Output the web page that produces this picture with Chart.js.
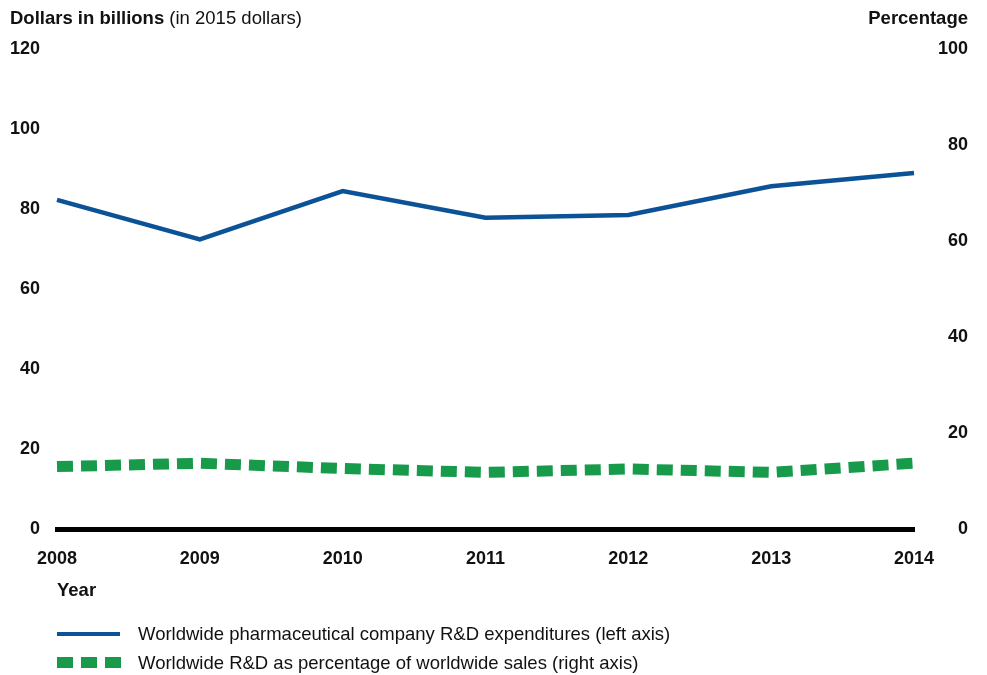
<!DOCTYPE html>
<html>
<head>
<meta charset="utf-8">
<script src="https://cdn.jsdelivr.net/npm/chart.js@4.4.1/dist/chart.umd.min.js"></script>
<style>
  html, body { margin: 0; padding: 0; background: #fff; }
  body { width: 987px; height: 675px; position: relative; overflow: hidden;
         font-family: "Liberation Sans", Arial, sans-serif; color: #111; }
  #wrap { position: absolute; left: 0; top: 0; width: 987px; height: 675px; }
  .txt { position: absolute; font-size: 18.5px; white-space: nowrap; line-height: 1; }
  .b { font-weight: bold; }
  .swatch { position: absolute; }
</style>
</head>
<body>
<div id="wrap"><canvas id="rdChart"></canvas></div>

<div class="txt" style="left:10px; top:9px;"><span class="b">Dollars in billions</span> (in 2015 dollars)</div>
<div class="txt b" style="right:19px; top:9px;">Percentage</div>
<div class="txt b" style="left:57px; top:581px;">Year</div>

<div class="swatch" style="left:57px; top:632px; width:63px; height:4px; background:#0c5296;"></div>
<div class="txt" style="left:138px; top:625px;">Worldwide pharmaceutical company R&amp;D expenditures (left axis)</div>
<div class="swatch" style="left:57px; top:657px; width:16px; height:11px; background:#179b4b;"></div>
<div class="swatch" style="left:81px; top:657px; width:16px; height:11px; background:#179b4b;"></div>
<div class="swatch" style="left:105px; top:657px; width:16px; height:11px; background:#179b4b;"></div>
<div class="txt" style="left:138px; top:654px;">Worldwide R&amp;D as percentage of worldwide sales (right axis)</div>

<script>
'use strict'

// ---------------- data ----------------
const years = ['2008', '2009', '2010', '2011', '2012', '2013', '2014'];
// R&D spending, billions of 2015 dollars (left axis)
const rdSpending = [82.3, 72.4, 84.5, 77.8, 78.5, 85.7, 89.0];
// R&D as share of sales, percent (right axis)
const rdShare = [13.0, 13.7, 12.6, 11.8, 12.5, 11.8, 13.7];
const leftTicks = [0, 20, 40, 60, 80, 100, 120];
const rightTicks = [0, 20, 40, 60, 80, 100];

const blue = '#0c5296';
const green = '#179b4b';
const tickFont = { family: '"Liberation Sans", Arial, sans-serif', size: 18, weight: 'bold' };

function fixedTicks(values) {
    return function (scale) {
        scale.ticks = values.map(v => ({ value: v }));
    };
}

const ctx = document.getElementById('rdChart').getContext('2d');
const rdChart = new Chart(ctx, {
    type: 'line',
    data: {
        labels: years,
        datasets: [
            {
                label: 'Worldwide pharmaceutical company R&D expenditures (left axis)',
                data: rdSpending,
                yAxisID: 'yLeft',
                borderColor: blue,
                borderWidth: 4.5,
                pointRadius: 0,
                tension: 0,
                borderJoinStyle: 'miter'
            },
            {
                label: 'Worldwide R&D as percentage of worldwide sales (right axis)',
                data: rdShare,
                yAxisID: 'yRight',
                borderColor: green,
                borderWidth: 11,
                borderDash: [16, 8],
                pointRadius: 0,
                tension: 0
            }
        ]
    },
    options: {
        responsive: true,
        maintainAspectRatio: false,
        animation: false,
        events: [],
        layout: { padding: { top: 49, bottom: 105, left: 0, right: 19 } },
        plugins: {
            legend: { display: false },
            tooltip: { enabled: false }
        },
        scales: {
            x: {
                offset: false,
                grid: { display: false, drawTicks: false },
                border: { display: true, color: '#000', width: 5 },
                ticks: { color: '#111', font: tickFont, padding: 19, maxRotation: 0 },
                afterFit: function (scale) { scale.height = 41; }
            },
            yLeft: {
                position: 'left',
                min: 0,
                max: 120,
                afterBuildTicks: fixedTicks(leftTicks),
                grid: { display: false, drawTicks: false },
                border: { display: false },
                ticks: { color: '#111', font: tickFont, padding: 17 },
                afterFit: function (scale) { scale.width = 57; }
            },
            yRight: {
                position: 'right',
                min: 0,
                max: 100,
                afterBuildTicks: fixedTicks(rightTicks),
                grid: { display: false, drawTicks: false },
                border: { display: false },
                ticks: { color: '#111', font: tickFont, padding: 5, crossAlign: 'far' },
                afterFit: function (scale) { scale.width = 54; }
            }
        }
    }
});
</script>
</body>
</html>
